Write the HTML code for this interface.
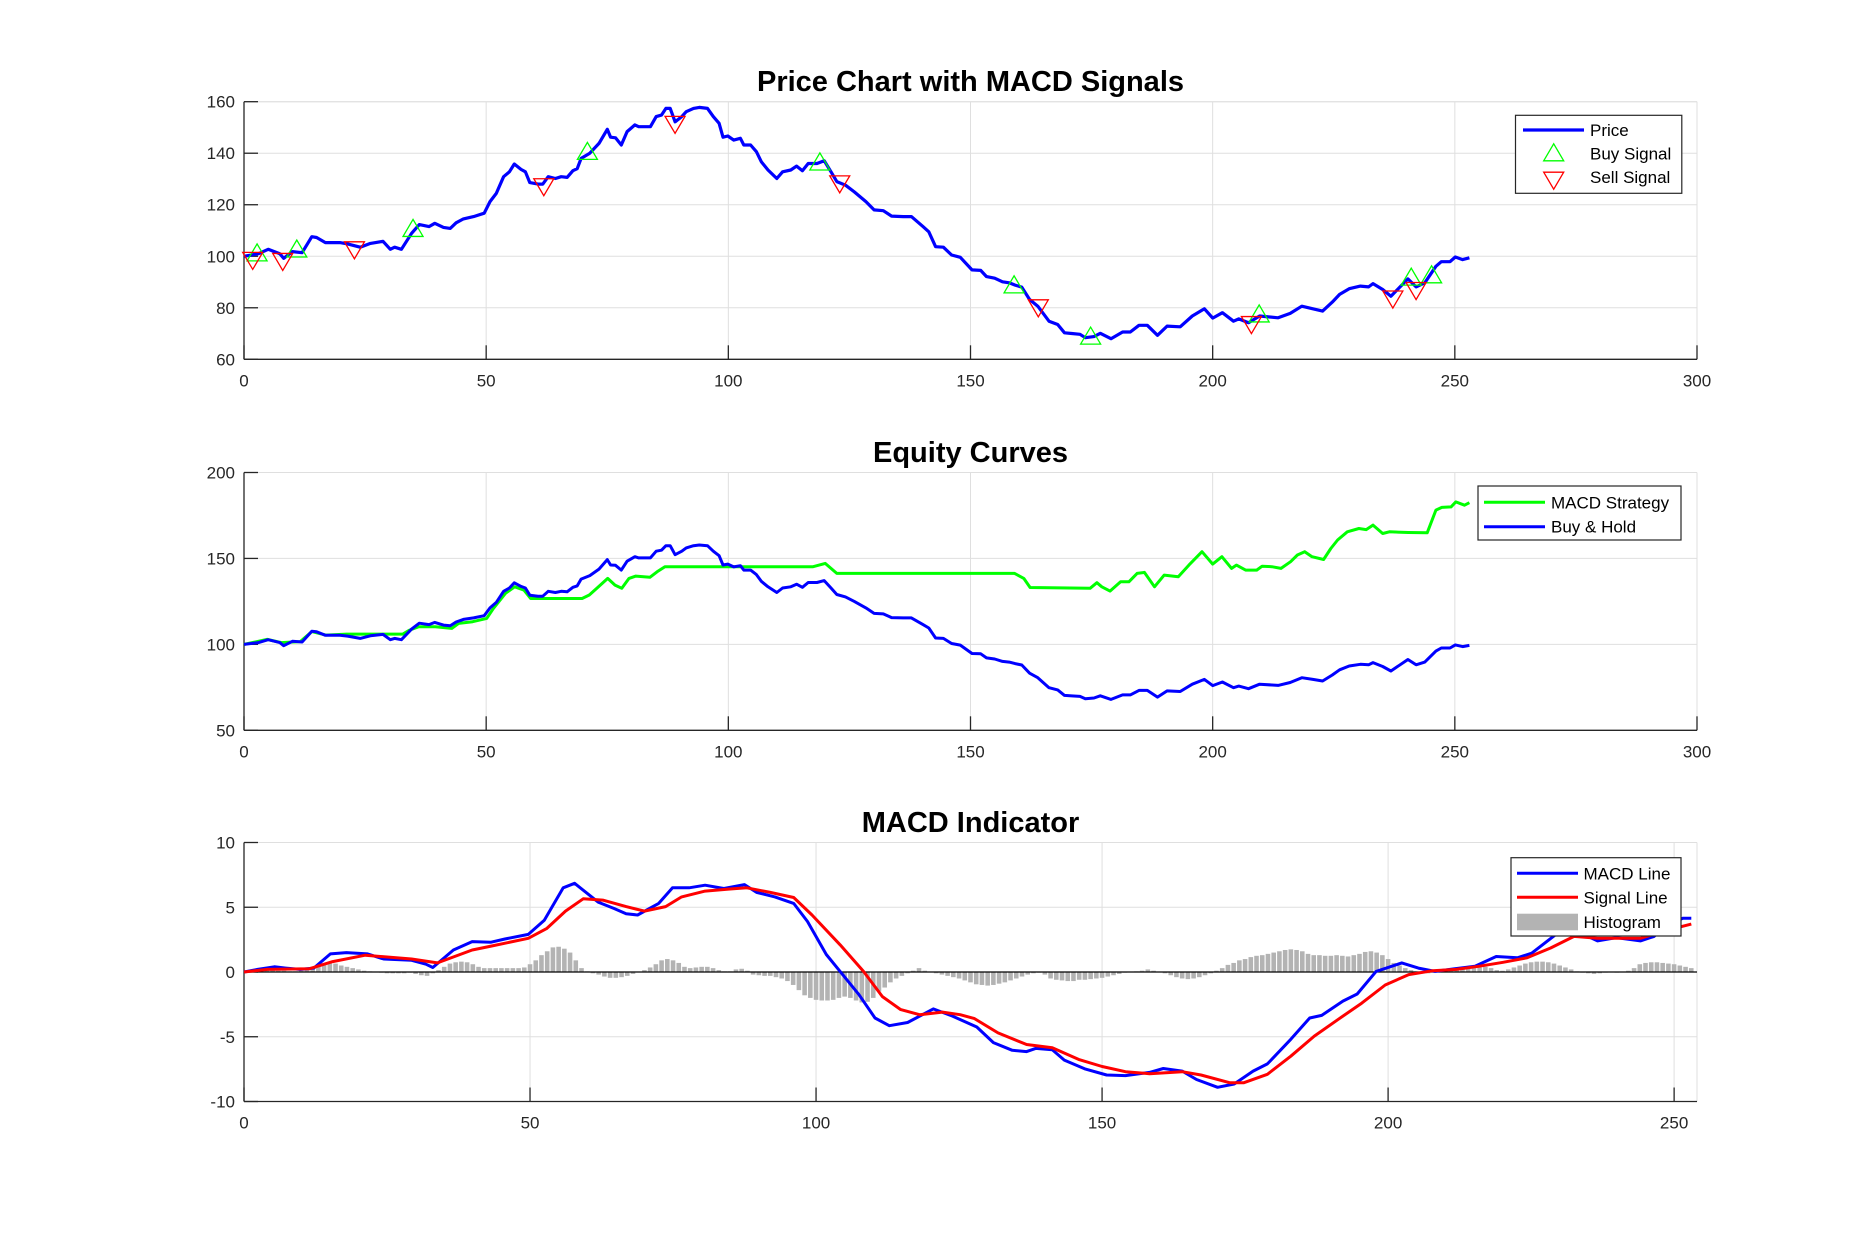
<!DOCTYPE html>
<html><head><meta charset="utf-8"><style>
html,body{margin:0;padding:0;background:#fff;}
svg{display:block;font-family:"Liberation Sans",Arial,sans-serif;}
</style></head><body>
<svg id="fig" width="1875" height="1238" viewBox="0 0 1875 1238" xmlns="http://www.w3.org/2000/svg">
<rect x="0" y="0" width="1875" height="1238" fill="#fff"/>
</svg>
<script>
// ---------- DATA ----------
const priceDays=[0,3,5,7.4,8.2,10,12,14,15,16.8,19.8,21.4,24,26.1,28.7,30.2,31.1,32.5,34.6,36.2,38.2,39.4,41.2,42.6,43.8,45.3,47.4,49.6,50.8,52.1,53.6,54.8,55.8,57.2,58.1,59,60.7,61.7,62.8,64.3,65.5,66.7,67.9,68.8,69.6,71.4,73.3,75,75.7,76.7,77.9,79.1,80.7,81.5,83.9,85.1,86.2,87.1,88,89,90.4,91.3,92.8,94,95.7,96.9,98.1,98.9,99.9,101.1,102.5,103.2,104.6,105.8,106.8,108.2,110,111.2,112.9,114.1,115.3,116.5,118.3,119.8,121.2,122.4,124.2,126,128.4,130.1,132,133.7,136.1,137.8,140.2,141.4,142.8,144.4,146.1,147.9,150.3,152.1,153.3,155,156.6,158,159.2,160.6,162.2,163.9,166.2,168,169.4,170.9,172.6,173.7,175.5,176.8,179,181.4,183,184.8,186.5,188.6,190.6,193.3,195.8,198.3,200,202,204.3,205.4,207.4,209.7,213.5,216,218.4,220.7,222.7,224.7,226.2,228.2,230.5,232.2,233.1,235.1,236.8,240.3,242,243.8,246.1,247.2,249,250.1,251.6,253];
const priceVals=[100,101,102.7,101,99.2,101.8,101.4,107.6,107.3,105.3,105.3,104.8,103.5,105,105.8,102.7,103.5,102.7,108.9,112.3,111.5,112.8,111.2,110.8,113,114.5,115.4,116.7,121.2,124.4,130.9,132.8,135.8,133.7,132.8,128.6,128,128,130.9,130.2,130.9,130.6,133.2,134,138,140,143.8,149.3,146.2,146,143.2,148.4,151,150.3,150.3,154.2,154.8,157.4,157.4,152.2,154.2,156.1,157.4,157.8,157.4,154.2,151.6,146.2,146.7,145.1,145.8,143.2,143.2,140.6,136.7,133.5,130.2,132.8,133.5,135,133.2,136,136,137.1,132.8,129,127.6,125,121.2,118,117.7,115.6,115.4,115.4,111.5,109.5,103.7,103.5,100.5,99.6,94.7,94.5,92.1,91.5,90.1,89.7,88.8,88,83.2,80.6,74.8,73.5,70.3,70,69.7,68.4,68.8,70.1,68,70.6,70.6,73.2,73.2,69.3,72.9,72.6,76.8,79.6,76,78.1,74.8,75.7,74.2,76.8,76.1,77.8,80.6,79.6,78.7,82.2,85.2,87.4,88.4,88.1,89.4,87.1,84.5,91.2,88.1,89.7,96.1,97.9,97.9,99.7,98.7,99.4];
const buyDays=[2.7,10.9,34.9,70.9,118.9,159,174.8,209.6,241,245.2];
const buyVals=[101.5,103,111,140.9,136.8,89.1,69.2,77.8,92.1,93];
const sellDays=[1.8,8,22.8,61.9,89,123,164,208,237.2,242];
const sellVals=[98.2,97.8,102.3,126.8,151,127.9,79.8,73.3,83.2,86.5];
const holdDays=priceDays;
const holdVals=priceVals;
const stratDays=[0,4.8,7.7,11.6,14,16.9,21.2,32.8,34.2,36.1,39.5,42.9,44.3,47.2,50.1,51.5,54,55.9,57.8,59.2,69.8,71.3,73.2,75.1,76.6,78,79.5,80.9,83.8,85.3,86.9,117.5,120,122.4,159.1,161,162.3,174.7,176.1,177.1,178.8,181,182.7,184.4,185.9,188,190,192.9,195.1,197.8,200,201.9,203.9,204.9,206.8,209.1,210.2,212.2,214.1,216.1,217.5,219,220.5,222.9,224.4,225.8,227.8,230.2,231.7,233.1,235.1,236.5,240.4,244.3,246.1,247.3,249.2,250.2,252,253];
const stratVals=[100,102.9,101,101.6,107.4,105.4,106,106,108.3,110.3,110.3,109.3,112.2,113.2,115.1,120.9,129.7,133.5,131.6,126.7,126.7,128.7,133.5,138.4,134.5,132.6,138.4,139.7,139,142.2,145.2,145.2,147.1,141.3,141.3,138.4,133.1,132.6,135.9,133.5,131,136.4,136.4,141.3,141.9,133.5,140.3,139.3,146.1,153.9,146.7,151,144.2,146.1,143.2,143.2,145.5,145.2,144.2,148.1,152,153.9,151,149.4,155.8,160.7,165.5,167.4,166.8,169.4,164.5,165.5,165.1,164.9,178.1,179.7,180,182.9,181,182.4];
const macdDays=[0,2.4,5.3,7.3,9.8,12.2,15.1,17.9,21.6,24.4,29.3,31.8,33,36.6,39.9,43.2,45.6,49.7,52.5,55.8,57.8,61.9,64.7,66.8,68.8,72.5,74.9,77.8,80.6,83.9,87.5,89.6,92.8,96.1,98.5,101.8,104.2,107.5,110.3,112.8,116,120.5,123.8,128.1,131,134.3,136.8,138.4,141.3,143.4,147.1,150.8,154.1,158.3,160.7,164,166.5,170.2,173.1,176.4,178.9,183,186.3,188.4,192.1,194.6,197.9,202.4,205.3,208.2,211.5,215.2,218.9,222.6,225.1,229.2,232.5,236.6,239.9,244.1,246.5,249,251.5,253];
const macdVals=[0,0.2,0.4,0.3,0.2,0.3,1.4,1.5,1.4,1.0,0.9,0.6,0.35,1.7,2.35,2.3,2.55,2.9,4.0,6.5,6.85,5.4,4.9,4.5,4.4,5.3,6.5,6.5,6.7,6.45,6.75,6.15,5.8,5.3,3.9,1.35,0.05,-1.75,-3.55,-4.15,-3.9,-2.85,-3.4,-4.25,-5.45,-6.05,-6.15,-5.9,-6.0,-6.8,-7.5,-7.95,-8.0,-7.75,-7.45,-7.65,-8.3,-8.9,-8.65,-7.65,-7.1,-5.2,-3.55,-3.35,-2.25,-1.7,0.05,0.7,0.3,0.05,0.25,0.45,1.2,1.1,1.45,2.85,3.25,2.4,2.65,2.4,2.75,3.7,4.15,4.15];
const sigDays=[0,4.1,11.4,15.5,21.2,29.3,33.8,39.9,43.2,49.7,52.9,56.2,59.3,62.7,66.8,70,73.7,76.5,80.6,84.7,87.9,92,96.1,99.3,104.2,108.3,111.6,114.8,118.1,122.1,125.2,127.7,131.8,136.8,141.3,145.9,150,154.1,158.3,164,167.3,172.3,174.8,178.9,183,187.1,191.3,195.4,199.5,203.6,207.8,211.9,216,220.1,224.3,228.4,232.5,236.6,244.1,249,253];
const sigVals=[0,0.2,0.25,0.8,1.3,1.0,0.7,1.7,2.0,2.6,3.35,4.7,5.65,5.55,5.05,4.7,5.05,5.8,6.25,6.4,6.5,6.15,5.75,4.4,2.1,0.05,-1.9,-2.9,-3.3,-3.1,-3.3,-3.6,-4.7,-5.6,-5.85,-6.75,-7.3,-7.7,-7.85,-7.7,-7.95,-8.55,-8.55,-7.9,-6.5,-4.95,-3.65,-2.4,-1.0,-0.2,0.1,0.2,0.45,0.75,1.1,1.85,2.75,2.6,2.6,3.25,3.7];
const histVals=[0,0.1,0.15,0.2,0.2,0.15,0.1,0.1,0.05,0.05,
0.1,0.2,0.3,0.45,0.6,0.7,0.65,0.5,0.4,0.3,
0.2,0.1,0.05,0,-0.05,-0.1,-0.1,-0.1,-0.1,-0.05,
-0.15,-0.25,-0.3,-0.1,0.15,0.4,0.65,0.75,0.8,0.75,
0.6,0.4,0.3,0.3,0.3,0.3,0.3,0.3,0.3,0.35,
0.6,0.9,1.3,1.6,1.9,1.95,1.8,1.5,0.9,0.3,
0.05,-0.1,-0.2,-0.35,-0.45,-0.45,-0.4,-0.3,-0.15,0,
0.15,0.35,0.6,0.9,1.0,0.9,0.7,0.4,0.3,0.35,
0.4,0.4,0.3,0.15,0.05,0.05,0.2,0.25,0.1,-0.2,
-0.25,-0.3,-0.3,-0.4,-0.5,-0.7,-1.0,-1.4,-1.8,-2.0,
-2.15,-2.2,-2.2,-2.15,-2.0,-1.9,-2.0,-2.2,-2.35,-2.3,
-2.0,-1.5,-1.2,-0.8,-0.5,-0.3,-0.1,0.1,0.3,0.1,
0,-0.1,-0.2,-0.3,-0.4,-0.5,-0.65,-0.8,-0.95,-1.0,
-1.05,-1.0,-0.9,-0.8,-0.65,-0.5,-0.35,-0.2,-0.1,-0.05,
-0.2,-0.5,-0.6,-0.65,-0.7,-0.7,-0.6,-0.6,-0.55,-0.5,
-0.45,-0.35,-0.25,-0.15,-0.05,0,0.05,0.1,0.2,0.1,
0,-0.1,-0.25,-0.4,-0.5,-0.55,-0.5,-0.4,-0.25,-0.1,
0.1,0.3,0.55,0.7,0.9,1.0,1.15,1.25,1.3,1.4,
1.5,1.6,1.7,1.75,1.7,1.6,1.4,1.3,1.3,1.25,
1.25,1.3,1.25,1.2,1.3,1.4,1.55,1.6,1.5,1.3,
1.0,0.7,0.5,0.3,0.15,0.05,-0.05,-0.1,0,0.05,
0.1,0.1,0.15,0.2,0.25,0.3,0.35,0.4,0.3,0.15,
0.1,0.2,0.35,0.5,0.65,0.75,0.8,0.8,0.75,0.65,
0.5,0.35,0.2,0.05,-0.05,-0.1,-0.15,-0.1,-0.05,0,
-0.05,0,0.1,0.3,0.6,0.7,0.75,0.75,0.7,0.65,
0.6,0.5,0.4,0.3];
const xTicks1=[0,50,100,150,200,250,300];
const yTicks1=[60,80,100,120,140,160];
const yTicks2=[50,100,150,200];
const xTicks3=[0,50,100,150,200,250];
const yTicks3=[-10,-5,0,5,10];

// ---------- DRAWING ----------
const NS='http://www.w3.org/2000/svg';
const fig=document.getElementById('fig');
function mk(tag,attrs,parent){const e=document.createElementNS(NS,tag);for(const k in attrs)e.setAttribute(k,attrs[k]);(parent||fig).appendChild(e);return e;}
function makeAxis(L,R,T,B,x0,x1,y0,y1){return{L,R,T,B,x:v=>L+(v-x0)/(x1-x0)*(R-L),y:v=>B-(v-y0)/(y1-y0)*(B-T)};}

function drawFrame(ax,g,xt,yt,title,titleY){
  const grid=mk('g',{},g);
  
  
  xt.forEach(v=>{const X=ax.x(v);mk('line',{x1:X,x2:X,y1:ax.T,y2:ax.B,stroke:'#dfdfdf','stroke-width':1},grid);});
  yt.forEach(v=>{const Y=ax.y(v);mk('line',{x1:ax.L,x2:ax.R,y1:Y,y2:Y,stroke:'#dfdfdf','stroke-width':1},grid);});
  mk('line',{x1:ax.L,x2:ax.R,y1:ax.T,y2:ax.T,stroke:'#dfdfdf','stroke-width':1},grid);
  mk('line',{x1:ax.R,x2:ax.R,y1:ax.T,y2:ax.B,stroke:'#dfdfdf','stroke-width':1},grid);
  const axes=mk('g',{},g);
  
  
  mk('line',{x1:ax.L,x2:ax.R,y1:ax.B,y2:ax.B,stroke:'#262626','stroke-width':1.3},axes);
  mk('line',{x1:ax.L,x2:ax.L,y1:ax.T,y2:ax.B,stroke:'#262626','stroke-width':1.3},axes);
  xt.forEach(v=>{const X=ax.x(v);mk('line',{x1:X,x2:X,y1:ax.B,y2:ax.B-14,stroke:'#262626','stroke-width':1.3},axes);
    const t=mk('text',{x:X,y:ax.B+27,'text-anchor':'middle','font-size':17,fill:'#262626'},axes);t.textContent=v;
    
    });
  yt.forEach(v=>{const Y=ax.y(v);mk('line',{x1:ax.L,x2:ax.L+14,y1:Y,y2:Y,stroke:'#262626','stroke-width':1.3},axes);
    const t=mk('text',{x:ax.L-9,y:Y+6,'text-anchor':'end','font-size':17,fill:'#262626'},axes);t.textContent=v;
    
    });
  const tt=mk('text',{x:(ax.L+ax.R)/2,y:titleY,'text-anchor':'middle','font-size':29,'font-weight':'bold',fill:'#000'},g);
  tt.textContent=title;
  
  
}
function linePath(ax,xs,ys){const n=Math.min(xs.length,ys.length);let d='';for(let i=0;i<n;i++)d+=(i?'L':'M')+ax.x(xs[i]).toFixed(1)+','+ax.y(ys[i]).toFixed(1);return d;}
function tri(cx,cy,up){const w=10,h=8.5;return up?`M${cx-w},${cy+h}L${cx+w},${cy+h}L${cx},${cy-h}Z`:`M${cx-w},${cy-h}L${cx+w},${cy-h}L${cx},${cy+h}Z`;}
function legendBox(g,x1,y1,x2,y2){const r=mk('rect',{x:x1,y:y1,width:x2-x1,height:y2-y1,fill:'#fff',stroke:'#262626','stroke-width':1.2},g);return r;}
function legText(g,x,y,s){const t=mk('text',{x:x,y:y+6,'font-size':17,fill:'#000'},g);t.textContent=s;return t;}

// Panel 1
const ax1=makeAxis(244,1697,101.7,359.3,0,300,60,160);
const g1=mk('g',{});


drawFrame(ax1,g1,xTicks1,yTicks1,'Price Chart with MACD Signals',91);
const pLine=mk('path',{d:linePath(ax1,priceDays,priceVals),fill:'none',stroke:'#0000ff','stroke-width':3.2,'stroke-linejoin':'round'},g1);


buyDays.forEach((d,i)=>{const p=mk('path',{d:tri(ax1.x(d),ax1.y(buyVals[i]),true),fill:'none',stroke:'#00ff00','stroke-width':1.3},g1);
  
  });
sellDays.forEach((d,i)=>{const p=mk('path',{d:tri(ax1.x(d),ax1.y(sellVals[i]),false),fill:'none',stroke:'#ff0000','stroke-width':1.3},g1);
  
  });
const lg1=mk('g',{},g1);


legendBox(lg1,1515.5,115.3,1681.8,193.3);
mk('line',{x1:1523,x2:1584,y1:130,y2:130,stroke:'#0000ff','stroke-width':3.2},lg1);
legText(lg1,1590,130,'Price');
mk('path',{d:tri(1553.7,152.3,true),fill:'none',stroke:'#00ff00','stroke-width':1.3},lg1);
legText(lg1,1590,153.5,'Buy Signal');
mk('path',{d:tri(1553.7,180.7,false),fill:'none',stroke:'#ff0000','stroke-width':1.3},lg1);
legText(lg1,1590,177,'Sell Signal');

// Panel 2
const ax2=makeAxis(244,1697,472.5,730.3,0,300,50,200);
const g2=mk('g',{});


drawFrame(ax2,g2,xTicks1,yTicks2,'Equity Curves',462);
const sLine=mk('path',{d:linePath(ax2,stratDays,stratVals),fill:'none',stroke:'#00ff00','stroke-width':3,'stroke-linejoin':'round'},g2);


const hLine=mk('path',{d:linePath(ax2,holdDays,holdVals),fill:'none',stroke:'#0000ff','stroke-width':3,'stroke-linejoin':'round'},g2);


const lg2=mk('g',{},g2);


legendBox(lg2,1478,486,1681,540);
mk('line',{x1:1484,x2:1545,y1:502.3,y2:502.3,stroke:'#00ff00','stroke-width':3},lg2);
legText(lg2,1551,502.3,'MACD Strategy');
mk('line',{x1:1484,x2:1545,y1:526.7,y2:526.7,stroke:'#0000ff','stroke-width':3},lg2);
legText(lg2,1551,526.7,'Buy & Hold');

// Panel 3
const ax3=makeAxis(244,1697,842.5,1101.5,0,254,-10,10);
const g3=mk('g',{});


drawFrame(ax3,g3,xTicks3,yTicks3,'MACD Indicator',832);
const hg=mk('g',{},g3);


const bw=0.8*(ax3.x(1)-ax3.x(0));
histVals.forEach((v,i)=>{const X=ax3.x(i),Y0=ax3.y(0),Y=ax3.y(v);
  const r=mk('rect',{x:X-bw/2,y:Math.min(Y0,Y),width:bw,height:Math.abs(Y-Y0),fill:'#b3b3b3'},hg);
  
  });
const zl=mk('line',{x1:ax3.L,x2:ax3.R,y1:ax3.y(0),y2:ax3.y(0),stroke:'#000','stroke-width':1.2},g3);


const mLine=mk('path',{d:linePath(ax3,macdDays,macdVals),fill:'none',stroke:'#0000ff','stroke-width':3,'stroke-linejoin':'round'},g3);


const sgLine=mk('path',{d:linePath(ax3,sigDays,sigVals),fill:'none',stroke:'#ff0000','stroke-width':3,'stroke-linejoin':'round'},g3);


const lg3=mk('g',{},g3);


legendBox(lg3,1511,857.7,1681,936);
mk('line',{x1:1517,x2:1578,y1:873.3,y2:873.3,stroke:'#0000ff','stroke-width':3},lg3);
legText(lg3,1583.5,873.3,'MACD Line');
mk('line',{x1:1517,x2:1578,y1:897.3,y2:897.3,stroke:'#ff0000','stroke-width':3},lg3);
legText(lg3,1583.5,897.3,'Signal Line');
mk('rect',{x:1517,y:913.7,width:61,height:16.6,fill:'#b3b3b3'},lg3);
legText(lg3,1583.5,922,'Histogram');
</script>
</body></html>
